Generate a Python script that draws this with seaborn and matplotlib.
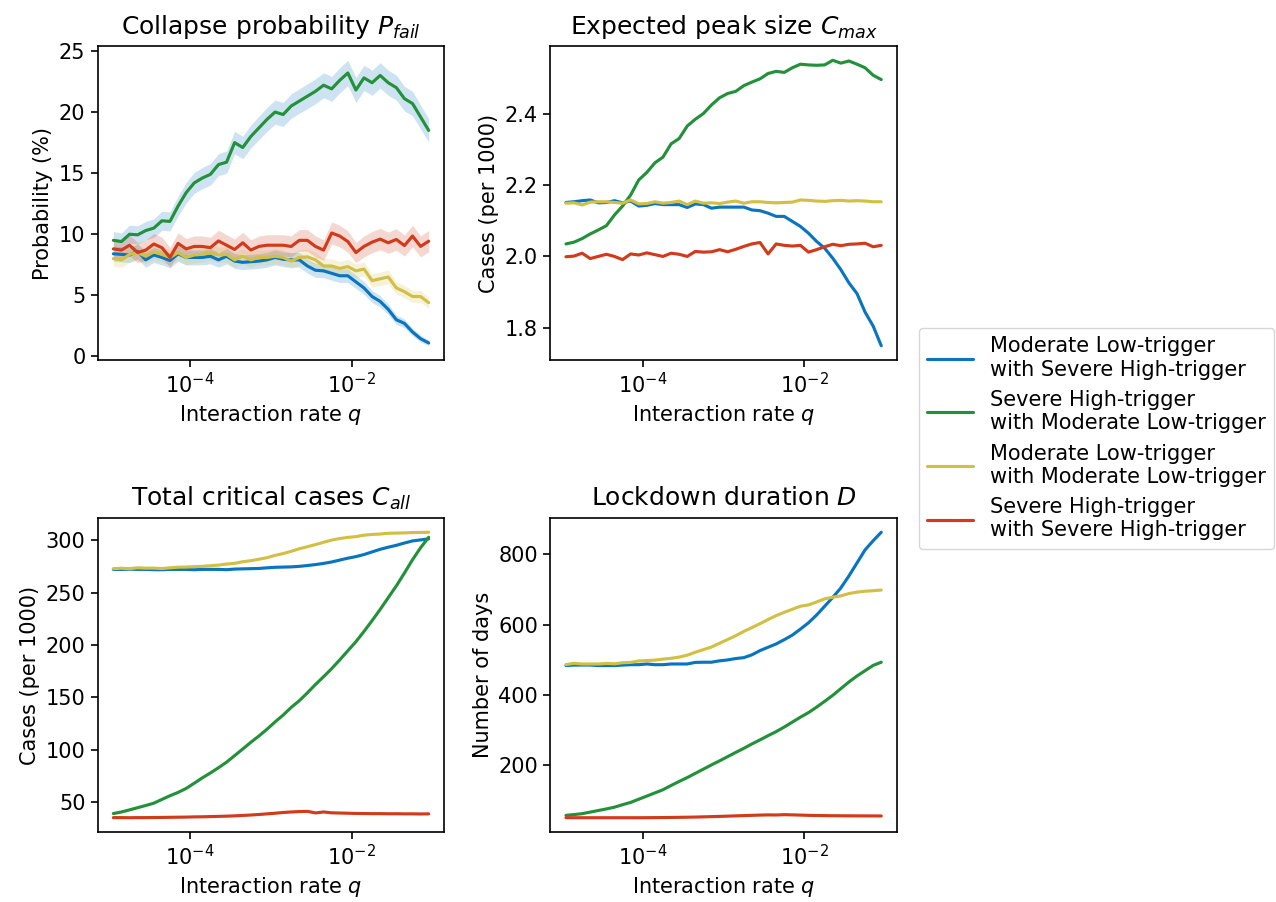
import numpy as np
import pandas as pd
import matplotlib
matplotlib.use("Agg")
from matplotlib import pyplot as plt
from matplotlib.lines import Line2D
from matplotlib.ticker import FixedLocator, NullLocator, MultipleLocator
import seaborn as sns

# interaction rate grid (log10 q), 40 bins
log_q = [-4.95, -4.85, -4.75, -4.65, -4.55, -4.45, -4.35, -4.25, -4.15, -4.05,
         -3.95, -3.85, -3.75, -3.65, -3.55, -3.45, -3.35, -3.25, -3.15, -3.05,
         -2.95, -2.85, -2.75, -2.65, -2.55, -2.45, -2.35, -2.25, -2.15, -2.05,
         -1.95, -1.85, -1.75, -1.65, -1.55, -1.45, -1.35, -1.25, -1.15, -1.05]

policies = ["Moderate Low-trigger\nwith Severe High-trigger",
            "Severe High-trigger\nwith Moderate Low-trigger",
            "Moderate Low-trigger\nwith Moderate Low-trigger",
            "Severe High-trigger\nwith Severe High-trigger"]
colors = ["#0a75bf", "#23903a", "#d2bf45", "#d13a1a"]
band_colors = ["#0a75bf", "#0a75bf", "#d2bf45", "#d13a1a"]

# collapse probability (%)
pfail_blue = [8.4, 8.35, 8.3, 8.6, 7.9, 8.3, 8.1, 7.85, 8.4, 8.1, 8.1, 8.1, 8.2, 7.9, 8.2,
              7.8, 7.7, 7.75, 7.8, 7.9, 8.1, 7.95, 7.9, 7.9, 7.4, 7.05, 7.0, 6.8, 6.6, 6.6,
              6.1, 5.6, 4.9, 4.5, 3.85, 3.0, 2.7, 2.0, 1.45, 1.1]
pfail_green = [9.5, 9.4, 10.0, 9.95, 10.3, 10.5, 11.1, 11.05, 12.3, 13.4, 14.2, 14.6, 14.9,
               15.7, 15.9, 17.5, 17.1, 18.0, 18.7, 19.4, 20.0, 19.8, 20.5, 20.9, 21.3, 21.7,
               22.2, 21.9, 22.6, 23.2, 21.8, 22.8, 22.4, 23.0, 22.4, 22.0, 21.1, 20.7, 19.6, 18.5]
pfail_yellow = [8.0, 7.9, 8.35, 8.5, 8.2, 8.55, 8.35, 8.1, 8.5, 8.1, 8.3, 8.35, 8.5, 8.3, 8.35,
                7.9, 8.2, 7.9, 8.1, 8.1, 8.2, 8.1, 7.8, 8.1, 8.15, 7.9, 7.4, 7.4, 7.2, 7.35,
                7.0, 7.15, 6.2, 6.35, 6.5, 5.6, 5.3, 4.9, 4.9, 4.4]
pfail_red = [8.8, 8.7, 9.1, 8.5, 8.7, 9.2, 8.9, 8.1, 9.25, 8.8, 9.0, 9.0, 8.9, 9.45, 9.1,
             8.75, 9.3, 8.7, 9.0, 9.1, 9.1, 9.1, 9.0, 9.5, 9.5, 9.0, 8.7, 10.1, 9.85, 9.4,
             8.5, 9.0, 9.35, 9.6, 9.3, 9.57, 9.07, 9.85, 9.0, 9.43]
# half width of the confidence bands (%)
hw_blue = [0.62, 0.62, 0.62, 0.63, 0.61, 0.62, 0.61, 0.61, 0.62, 0.61, 0.61, 0.61, 0.62, 0.61,
           0.62, 0.60, 0.60, 0.60, 0.60, 0.61, 0.61, 0.61, 0.60, 0.60, 0.59, 0.58, 0.57, 0.56,
           0.56, 0.56, 0.54, 0.52, 0.49, 0.47, 0.43, 0.38, 0.36, 0.31, 0.27, 0.23]
hw_green = [0.72, 0.71, 0.74, 0.74, 0.75, 0.76, 0.78, 0.78, 0.81, 0.84, 0.86, 0.87, 0.88, 0.90,
            0.91, 0.93, 0.92, 0.95, 0.96, 0.98, 0.99, 0.98, 1.00, 1.00, 1.01, 1.02, 1.03, 1.02,
            1.03, 1.04, 1.02, 1.03, 1.03, 1.04, 1.03, 1.02, 1.01, 1.00, 0.98, 0.96]
hw_yellow = [0.62, 0.61, 0.63, 0.64, 0.63, 0.64, 0.63, 0.62, 0.64, 0.62, 0.63, 0.63, 0.64, 0.63,
             0.63, 0.61, 0.63, 0.61, 0.62, 0.62, 0.63, 0.62, 0.61, 0.62, 0.63, 0.61, 0.59, 0.59,
             0.58, 0.59, 0.58, 0.58, 0.55, 0.55, 0.56, 0.52, 0.51, 0.49, 0.49, 0.47]
hw_red = [0.85, 0.84, 0.86, 0.83, 0.84, 0.87, 0.85, 0.82, 0.87, 0.85, 0.86, 0.86, 0.85, 0.88,
          0.86, 0.85, 0.87, 0.84, 0.86, 0.86, 0.86, 0.86, 0.86, 0.88, 0.88, 0.86, 0.84, 0.90,
          0.89, 0.88, 0.83, 0.86, 0.87, 0.88, 0.87, 0.88, 0.86, 0.89, 0.86, 0.87]

# expected peak size (per 1000)
cmax_blue = [2.151, 2.153, 2.156, 2.158, 2.150, 2.151, 2.156, 2.150, 2.155, 2.141, 2.143, 2.148,
             2.145, 2.145, 2.145, 2.137, 2.147, 2.145, 2.135, 2.138, 2.138, 2.138, 2.138, 2.130,
             2.128, 2.121, 2.112, 2.112, 2.098, 2.084, 2.065, 2.042, 2.023, 1.995, 1.963, 1.926,
             1.896, 1.844, 1.805, 1.750]
cmax_green = [2.035, 2.040, 2.050, 2.063, 2.074, 2.086, 2.116, 2.141, 2.172, 2.214, 2.235, 2.262,
              2.278, 2.315, 2.330, 2.365, 2.384, 2.400, 2.424, 2.444, 2.456, 2.462, 2.478, 2.488,
              2.497, 2.512, 2.518, 2.515, 2.528, 2.538, 2.536, 2.535, 2.536, 2.549, 2.541, 2.547,
              2.538, 2.528, 2.507, 2.495]
cmax_yellow = [2.149, 2.150, 2.144, 2.152, 2.153, 2.153, 2.151, 2.149, 2.158, 2.147, 2.148, 2.153,
               2.149, 2.151, 2.155, 2.145, 2.155, 2.149, 2.150, 2.148, 2.152, 2.155, 2.149, 2.153,
               2.153, 2.151, 2.150, 2.151, 2.152, 2.158, 2.157, 2.155, 2.154, 2.156, 2.157, 2.155,
               2.156, 2.155, 2.153, 2.153]
cmax_red = [1.999, 2.001, 2.009, 1.994, 2.000, 2.006, 2.000, 1.991, 2.007, 2.004, 2.010, 2.005,
            2.000, 2.009, 2.006, 2.000, 2.014, 2.012, 2.013, 2.019, 2.013, 2.020, 2.028, 2.035,
            2.039, 2.007, 2.035, 2.031, 2.029, 2.031, 2.012, 2.019, 2.027, 2.034, 2.030, 2.034,
            2.035, 2.037, 2.027, 2.031]

# total critical cases (per 1000)
call_blue = [272.3, 272.3, 272.5, 272.3, 272.3, 272.0, 272.0, 272.3, 272.3, 272.3, 272.0, 272.3,
             272.3, 272.3, 272.0, 272.6, 272.8, 273.0, 273.2, 273.8, 274.3, 274.5, 274.7, 275.2,
             276.0, 276.9, 278.0, 279.4, 281.2, 283.0, 284.5, 286.5, 289.0, 291.5, 293.5, 295.3,
             297.5, 299.5, 300.5, 301.5]
call_green = [38.9, 40.4, 42.4, 44.5, 46.6, 48.8, 52.4, 55.9, 59.1, 62.9, 67.9, 73.0, 77.7, 82.7,
              88.0, 94.3, 100.6, 107.0, 113.0, 119.5, 126.5, 133.0, 140.4, 146.8, 154.3, 162.3,
              169.7, 177.4, 185.8, 194.5, 203.2, 213.0, 223.3, 234.0, 245.3, 256.5, 268.8, 281.5,
              293.0, 303.0]
call_yellow = [273.0, 273.4, 273.0, 273.8, 273.5, 273.5, 273.1, 273.8, 274.4, 274.5, 274.9, 275.2,
               275.8, 276.4, 277.4, 278.1, 279.6, 280.6, 282.0, 283.5, 285.7, 287.4, 289.6, 292.0,
               294.0, 296.0, 298.2, 300.3, 301.8, 302.9, 303.6, 305.0, 305.7, 306.1, 306.8, 307.0,
               307.2, 307.5, 307.6, 307.8]
call_red = [35.0, 35.0, 34.9, 35.0, 35.0, 35.1, 35.2, 35.3, 35.4, 35.5, 35.7, 35.8, 36.0, 36.2,
            36.4, 36.7, 37.1, 37.5, 38.0, 38.6, 39.2, 39.9, 40.4, 40.8, 41.0, 39.5, 40.4, 39.6,
            39.4, 39.2, 39.0, 38.9, 38.8, 38.8, 38.7, 38.7, 38.6, 38.6, 38.5, 38.6]

# lockdown duration (days)
dur_blue = [483.5, 485, 485, 485, 483.5, 483.5, 483.5, 485, 486, 486, 488, 486, 486, 488, 488, 488,
            492.5, 493, 493, 497, 499.5, 503.5, 506, 514, 526, 535.5, 545, 557, 570, 587, 605, 627,
            652, 677, 704, 738, 775, 812, 838, 862]
dur_green = [58.3, 60.5, 63, 67.5, 72, 76.5, 81.5, 88.5, 95, 104, 113, 122, 131, 143, 154.5, 165.5,
             177.5, 189.5, 201.5, 213, 225, 237, 248.5, 261, 272.5, 284.5, 296, 309, 323, 337, 350,
             365.5, 382, 399, 418, 437, 454, 469, 484, 493]
dur_yellow = [486.3, 490, 488, 488, 488, 489.5, 488.5, 491.5, 492.5, 496.7, 497.6, 499, 501.8, 504,
              507.6, 512.9, 521.3, 528.7, 536.2, 546.9, 557.5, 568.2, 580.5, 591.3, 602.5, 614.3,
              625.3, 634.7, 643.3, 652, 655.7, 664, 673, 677.6, 681.4, 688, 692, 694.6, 696, 698]
dur_red = [51.5, 51.5, 51.5, 51.5, 51.5, 51.5, 51.5, 51.5, 51.5, 51.5, 51.6, 51.8, 52.0, 52.3, 52.6,
           53.0, 53.4, 54.0, 54.6, 55.3, 56.0, 56.8, 57.5, 58.3, 59.0, 59.5, 59.3, 60.2, 59.6, 59.0,
           58.3, 57.8, 57.5, 57.2, 57.0, 56.9, 56.8, 56.7, 56.6, 56.5]

sns.set_style("ticks")
plt.rcParams.update({
    "font.family": ["DejaVu Sans"],
    "font.size": 15,
    "text.color": "black",
    "axes.labelcolor": "black",
    "axes.edgecolor": "black",
    "xtick.color": "black",
    "ytick.color": "black",
    "axes.linewidth": 1.2,
    "mathtext.fontset": "dejavusans",
})

q = np.power(10.0, log_q)


def long_frame(series):
    frames = []
    for name, vals in zip(policies, series):
        frames.append(pd.DataFrame({"q": q, "value": vals, "policy": name}))
    return pd.concat(frames, ignore_index=True)


panels = [
    ("Collapse probability $P_{fail}$", "Probability (%)",
     [pfail_blue, pfail_green, pfail_yellow, pfail_red],
     [hw_blue, hw_green, hw_yellow, hw_red], 5),
    ("Expected peak size $C_{max}$", "Cases (per 1000)",
     [cmax_blue, cmax_green, cmax_yellow, cmax_red], None, 0.2),
    ("Total critical cases $C_{all}$", "Cases (per 1000)",
     [call_blue, call_green, call_yellow, call_red], None, 50),
    ("Lockdown duration $D$", "Number of days",
     [dur_blue, dur_green, dur_yellow, dur_red], None, 200),
]

fig, axes = plt.subplots(2, 2, figsize=(12.76, 9.02), dpi=100)
fig.subplots_adjust(left=0.0765, right=0.703, top=0.949, bottom=0.0776,
                    wspace=0.305, hspace=0.503)

for ax, (title, ylabel, series, bands, ystep) in zip(axes.flat, panels):
    if bands is not None:
        for vals, hw, bc in zip(series, bands, band_colors):
            lo = np.array(vals) - np.array(hw)
            hi = np.array(vals) + np.array(hw)
            ax.fill_between(q, lo, hi, color=bc, alpha=0.2, linewidth=0)
    df = long_frame(series)
    sns.lineplot(data=df, x="q", y="value", hue="policy", hue_order=policies,
                 palette=colors, estimator=None, linewidth=2.25, legend=False, ax=ax)
    ax.set_xscale("log")
    ax.xaxis.set_major_locator(FixedLocator([1e-4, 1e-2]))
    ax.xaxis.set_minor_locator(NullLocator())
    ax.yaxis.set_major_locator(MultipleLocator(ystep))
    ax.set_title(title, fontsize=18, pad=9, color="black")
    ax.set_xlabel("Interaction rate $q$", fontsize=15)
    ax.set_ylabel(ylabel, fontsize=15)
    ax.tick_params(labelsize=15, length=5.25, width=1.2, colors="black")

handles = [Line2D([0], [0], color=c, lw=2.25) for c in colors]
fig.legend(handles, policies, loc="center left", bbox_to_anchor=(0.712, 0.514),
           fontsize=15, handlelength=2.2, frameon=True, labelcolor="black")

fig.savefig("out.png", dpi=100)
